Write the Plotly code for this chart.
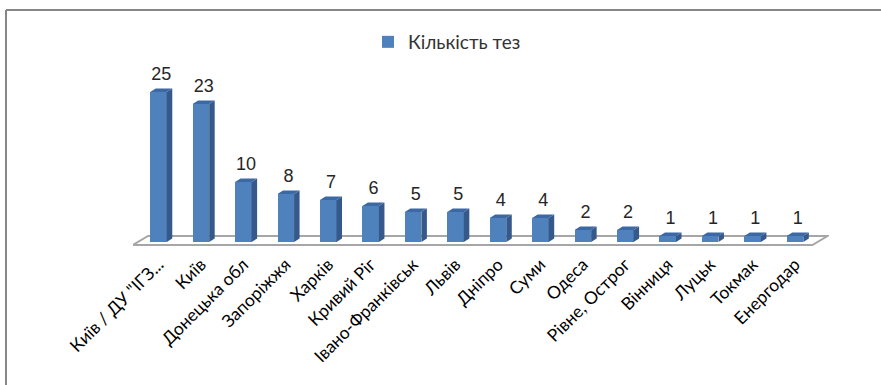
import plotly.graph_objects as go

# Number of theses by city
cities = ['Київ / ДУ "ІГЗ...', "Київ", "Донецька обл", "Запоріжжя", "Харків",
          "Кривий Ріг", "Івано-Франківськ", "Львів", "Дніпро", "Суми", "Одеса",
          "Рівне, Острог", "Вінниця", "Луцьк", "Токмак", "Енергодар"]
theses = [25, 23, 10, 8, 7, 6, 5, 5, 4, 4, 2, 2, 1, 1, 1, 1]
series_name = "Кількість тез"

# pseudo-3D styling (in axis units)
BAR_W = 0.39          # front face width
DX, DY = 0.13, 0.58   # bar depth offsets
LABEL_LIFT = 0.7      # extra space between bar top and its value label
FRONT = "#4F81BD"
SIDE = "#35598A"
TOP = "#3C68A3"

n = len(cities)
xs = list(range(n))

fig = go.Figure()

# front faces
fig.add_trace(go.Bar(
    x=xs, y=theses, width=BAR_W, name=series_name,
    marker=dict(color=FRONT, line=dict(width=0)),
    showlegend=True, hoverinfo="skip",
))

# side and top faces, built from each bar's value
side_x, side_y, top_x, top_y = [], [], [], []
for i, v in zip(xs, theses):
    r = i + BAR_W / 2
    l = i - BAR_W / 2
    side_x += [r, r + DX, r + DX, r, r, None]
    side_y += [0, DY, v + DY, v, 0, None]
    top_x += [l, l + DX, r + DX, r, l, None]
    top_y += [v, v + DY, v + DY, v, v, None]

fig.add_trace(go.Scatter(x=side_x, y=side_y, mode="lines", fill="toself",
                         fillcolor=SIDE, line=dict(width=0, color=SIDE),
                         showlegend=False, hoverinfo="skip"))
fig.add_trace(go.Scatter(x=top_x, y=top_y, mode="lines", fill="toself",
                         fillcolor=TOP, line=dict(width=0, color=TOP),
                         showlegend=False, hoverinfo="skip"))

# value labels above each bar
fig.add_trace(go.Scatter(
    x=[i + DX / 2 for i in xs], y=[v + DY + LABEL_LIFT for v in theses],
    mode="text", text=[str(v) for v in theses], textposition="top center",
    textfont=dict(family="Liberation Sans", size=18, color="#262626"),
    showlegend=False, hoverinfo="skip", cliponaxis=False,
))

# floor slab under the bars
x0, x1 = -0.6, n - 1 + 0.41
fdx, f_front, f_back = 0.354, -0.5, 1.0
floor_path = (f"M {x0},{f_front} L {x1},{f_front} L {x1 + fdx},{f_back} "
              f"L {x0 + fdx},{f_back} Z")

L, R, T, B = 133, 52, 60, 135
W, H = 881, 385
pw, ph = W - L - R, H - T - B


def px(xp):
    return (xp - L) / pw


def py(yp):
    return (H - B - yp) / ph


fig.update_layout(
    width=W, height=H,
    margin=dict(l=L, r=R, t=T, b=B, pad=0),
    paper_bgcolor="white", plot_bgcolor="white",
    bargap=0,
    xaxis=dict(range=[-0.6, 15.8], tickvals=xs, ticktext=cities, tickangle=-45,
               showgrid=False, zeroline=False, showline=False, ticks="",
               tickfont=dict(family="Lato", size=17.5, color="#000000"),
               fixedrange=True),
    yaxis=dict(range=[-1.333, 30.333], visible=False, fixedrange=True),
    legend=dict(orientation="h", x=px(447), xanchor="center", y=py(42),
                yanchor="middle", font=dict(family="Lato", size=19, color="#333333"),
                bgcolor="rgba(0,0,0,0)"),
    shapes=[
        dict(type="path", path=floor_path, xref="x", yref="y", layer="below",
             fillcolor="white", line=dict(color="#a6a6a6", width=2)),
        dict(type="line", xref="paper", yref="paper", x0=px(6), x1=px(900),
             y0=py(10), y1=py(10), line=dict(color="#868686", width=2)),
        dict(type="line", xref="paper", yref="paper", x0=px(6), x1=px(6),
             y0=py(10), y1=py(400), line=dict(color="#868686", width=2)),
    ],
)

fig.write_html("out.html")
